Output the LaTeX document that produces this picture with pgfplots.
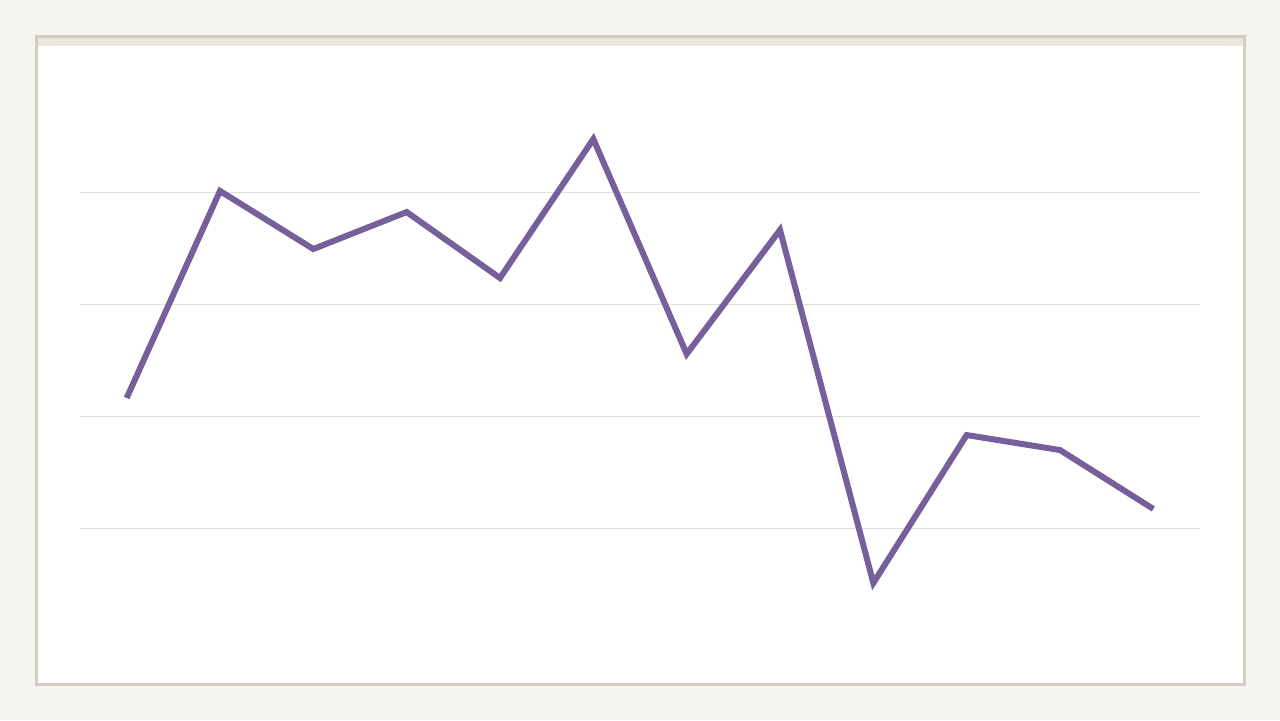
\documentclass[border=0pt]{standalone}
\usepackage{pgfplots}
\pgfplotsset{compat=1.18}
\definecolor{pagebg}{HTML}{F5F4EF}
\definecolor{cardborder}{HTML}{D2CDC4}
\definecolor{cardstrip}{HTML}{EBE7DF}
\definecolor{gridc}{HTML}{E2DFD5}
\definecolor{linec}{HTML}{76609B}
\begin{document}
\begin{tikzpicture}
\begin{scope}[x=0.5pt,y=0.5pt]
\fill[pagebg] (0,0) rectangle (1280,720);
\useasboundingbox (0,0) rectangle (1280,720);
% card (pixel coords: y measured from top)
\fill[cardborder] (35,720-686) rectangle (1246,720-35);
\fill[white] (38,720-683) rectangle (1243,720-38);
\fill[cardstrip] (38,720-46) rectangle (1243,720-38);
\end{scope}
\begin{axis}[
  at={(40pt,40pt)}, anchor=south west,
  scale only axis, width=560pt, height=280pt,
  xmin=-0.5, xmax=11.5, ymin=0, ymax=50,
  axis line style={draw=none},
  tick style={draw=none},
  ytick={10,20,30,40},
  ymajorgrids, major grid style={gridc, line width=0.5pt},
  xtick=\empty, yticklabels={},
  clip=false,
]
\addplot[linec, line width=3pt, mark=none] coordinates {
 (0,21.61) (1,40.09) (2,34.91) (3,38.21) (4,32.32) (5,44.73)
 (6,25.54) (7,36.61) (8,5.09) (9,18.30) (10,16.96) (11,11.70)
};
\end{axis}
\end{tikzpicture}
\end{document}
